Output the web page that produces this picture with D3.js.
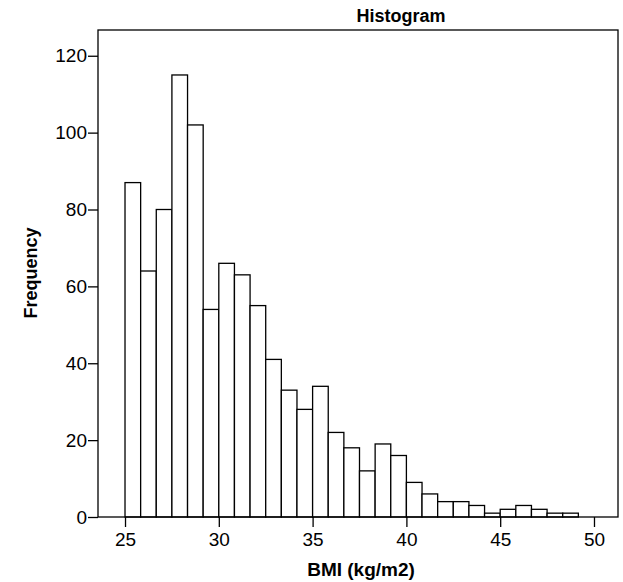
<!DOCTYPE html>
<html>
<head>
<meta charset="utf-8">
<script src="https://cdn.jsdelivr.net/npm/d3@7"></script>
<style>
  body { margin: 0; background: #fff; }
  text { font-family: "Liberation Sans", Arial, sans-serif; }
</style>
</head>
<body>
<div id="chart"></div>
<script>
// bins of width 5/6 starting at 25
var binStart = 25;
var binWidth = 5 / 6;
var counts = [87, 64, 80, 115, 102, 54, 66, 63, 55, 41, 33, 28, 34, 22, 18, 12, 19, 16, 9, 6, 4, 4, 3, 1, 2, 3, 2, 1, 1];
var xTicks = [25, 30, 35, 40, 45, 50];
var yTicks = [0, 20, 40, 60, 80, 100, 120];

var svgWidth = 623, svgHeight = 582;
var margin = { top: 30, right: 5, bottom: 65, left: 98 };
var width = svgWidth - margin.left - margin.right;
var height = svgHeight - margin.top - margin.bottom;

var svg = d3.select("#chart").append("svg")
  .attr("width", svgWidth)
  .attr("height", svgHeight);

var g = svg.append("g")
  .attr("transform", `translate(${margin.left}, ${margin.top})`);

var bins = counts.map(function(c, i) {
  return { x0: binStart + i * binWidth, x1: binStart + (i + 1) * binWidth, count: c };
});

var x = d3.scaleLinear().domain([23.56, 51.28]).range([0, width]);
var y = d3.scaleLinear().domain([0, 126.7]).range([height, 0]);

// bars
g.selectAll("rect.bar")
  .data(bins)
  .enter()
  .append("rect")
  .attr("class", "bar")
  .attr("x", d => x(d.x0))
  .attr("y", d => y(d.count))
  .attr("width", d => x(d.x1) - x(d.x0))
  .attr("height", d => y(0) - y(d.count))
  .attr("fill", "#fff")
  .attr("stroke", "#000")
  .attr("stroke-width", 1.3);

// frame
g.append("rect")
  .attr("x", 0).attr("y", 0)
  .attr("width", width).attr("height", height)
  .attr("fill", "none")
  .attr("stroke", "#000")
  .attr("stroke-width", 1.3);

var xAxis = d3.axisBottom(x).tickValues(xTicks).tickSize(10).tickPadding(6).tickSizeOuter(0);
var yAxis = d3.axisLeft(y).tickValues(yTicks).tickSize(10).tickPadding(1).tickSizeOuter(0);

var xg = g.append("g").attr("transform", `translate(0, ${height})`).call(xAxis);
var yg = g.append("g").call(yAxis);

[xg, yg].forEach(function(a) {
  a.select(".domain").remove();
  a.selectAll(".tick line").attr("stroke", "#000").attr("stroke-width", 1.3);
  a.selectAll(".tick text").attr("fill", "#000").style("font-size", "19px");
});

// title
svg.append("text")
  .attr("x", 401)
  .attr("y", 22)
  .attr("text-anchor", "middle")
  .style("font-size", "18px")
  .style("font-weight", "bold")
  .text("Histogram");

// axis labels
svg.append("text")
  .attr("x", 361)
  .attr("y", 576)
  .attr("text-anchor", "middle")
  .style("font-size", "19px")
  .style("font-weight", "bold")
  .text("BMI (kg/m2)");

svg.append("text")
  .attr("transform", "rotate(-90)")
  .attr("x", -273)
  .attr("y", 37)
  .attr("text-anchor", "middle")
  .style("font-size", "18px")
  .style("font-weight", "bold")
  .text("Frequency");
</script>
</body>
</html>
